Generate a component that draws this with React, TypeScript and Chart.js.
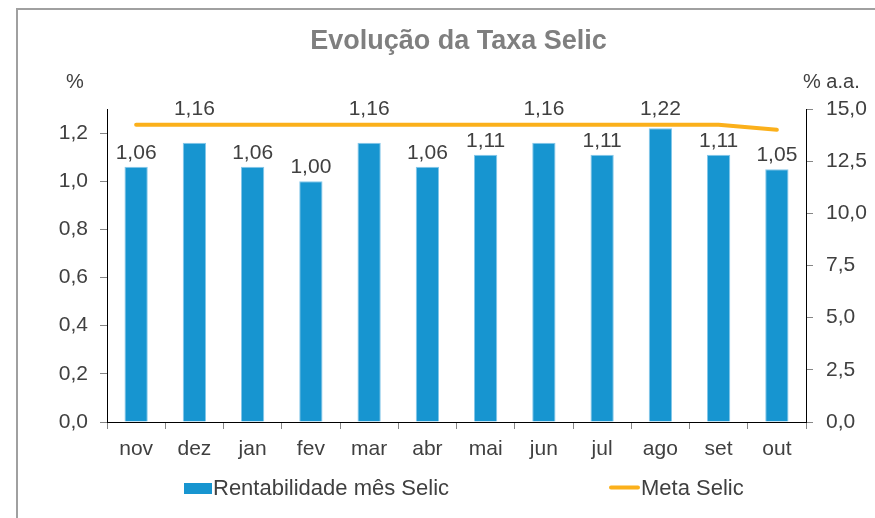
import React, { useEffect, useRef } from "react";
import { Chart, registerables } from "chart.js";

Chart.register(...registerables);

const months = ["nov", "dez", "jan", "fev", "mar", "abr", "mai", "jun", "jul", "ago", "set", "out"];
const rentabilidade = [1.06, 1.16, 1.06, 1.0, 1.16, 1.06, 1.11, 1.16, 1.11, 1.22, 1.11, 1.05];
const metaSelic = [14.25, 14.25, 14.25, 14.25, 14.25, 14.25, 14.25, 14.25, 14.25, 14.25, 14.25, 14.0];
const leftMax = 1.3;
const leftStep = 0.2;
const rightMax = 15;
const rightStep = 2.5;
const titleText = "Evolução da Taxa Selic";
const leftUnit = "%";
const rightUnit = "% a.a.";
const barLabel = "Rentabilidade mês Selic";
const lineLabel = "Meta Selic";

const FONT = '"Liberation Sans", Arial, sans-serif';
const TEXT = "#404040";
const BAR = "#1795d0";
const LINE = "#fbb01b";
const TICKC = "#868686";

const fmt = (v: number, d: number) => v.toFixed(d).replace(".", ",");

const overlay = {
  id: "overlay",
  afterDatasetsDraw(chart: any) {
    const ctx = chart.ctx;
    const bars = chart.getDatasetMeta(0).data;
    const pts = chart.getDatasetMeta(1).data;
    ctx.save();
    ctx.font = `21px ${FONT}`;
    ctx.fillStyle = TEXT;
    ctx.textAlign = "center";
    ctx.textBaseline = "middle";
    bars.forEach((b: any, i: number) => {
      let y = b.y - 14;
      const ly = pts[i].y;
      if (Math.abs(y - ly) < 13) y = ly - 15;
      ctx.fillText(fmt(rentabilidade[i], 2), b.x, y);
    });
    ctx.restore();
  },
  afterDraw(chart: any) {
    const ctx = chart.ctx;
    const area = chart.chartArea;
    ctx.save();
    // title
    ctx.font = `bold 27px ${FONT}`;
    ctx.fillStyle = "#7f7f7f";
    ctx.textAlign = "center";
    ctx.textBaseline = "middle";
    ctx.fillText(titleText, (area.left + area.right) / 2 + 2, 42);
    // unit labels
    ctx.font = `20px ${FONT}`;
    ctx.fillStyle = TEXT;
    ctx.fillText(leftUnit, 75, 82);
    ctx.textAlign = "left";
    ctx.fillText(rightUnit, 803, 82);
    // legend
    ctx.font = `22px ${FONT}`;
    ctx.fillStyle = BAR;
    ctx.fillRect(184, 483, 28, 11);
    ctx.fillStyle = TEXT;
    ctx.fillText(barLabel, 213, 489);
    ctx.strokeStyle = LINE;
    ctx.lineWidth = 4;
    ctx.lineCap = "round";
    ctx.beginPath();
    ctx.moveTo(611, 487.5);
    ctx.lineTo(638, 487.5);
    ctx.stroke();
    ctx.fillText(lineLabel, 641, 489);
    ctx.restore();
  },
};

export default function App() {
  const ref = useRef<HTMLCanvasElement | null>(null);
  useEffect(() => {
    if (!ref.current) return;
    const chart = new Chart(ref.current, {
      type: "bar",
      data: {
        labels: months,
        datasets: [
          {
            type: "bar",
            label: barLabel,
            data: rentabilidade,
            backgroundColor: BAR,
            borderColor: "#86c8ea",
            borderWidth: 1,
            barPercentage: 0.4,
            categoryPercentage: 1,
            yAxisID: "y",
            order: 2,
          },
          {
            type: "line",
            label: lineLabel,
            data: metaSelic,
            borderColor: LINE,
            borderWidth: 4,
            borderCapStyle: "round",
            pointRadius: 0,
            tension: 0,
            yAxisID: "y1",
            order: 1,
          } as any,
        ],
      },
      options: {
        responsive: false,
        animation: false,
        layout: { padding: { top: 109, left: 0, right: 0, bottom: 0 } },
        plugins: { legend: { display: false }, title: { display: false }, tooltip: { enabled: false } },
        scales: {
          x: {
            grid: { display: true, offset: true, drawOnChartArea: false, drawTicks: true, tickLength: 7, color: TICKC },
            border: { display: true, color: "#000", width: 1 },
            ticks: { font: { size: 21, family: FONT }, color: TEXT, padding: 8 },
            afterFit: (s: any) => {
              s.height = 96;
            },
          },
          y: {
            position: "left",
            min: 0,
            max: leftMax,
            grid: { display: true, drawOnChartArea: false, drawTicks: true, tickLength: 7, color: TICKC },
            border: { display: true, color: "#000", width: 1 },
            ticks: {
              stepSize: leftStep,
              font: { size: 21, family: FONT },
              color: TEXT,
              padding: 12,
              callback: (v: any) => fmt(Number(v), 1),
            },
            afterBuildTicks: (s: any) => {
              s.ticks = s.ticks.filter((t: any) => t.value <= 1.2 + 1e-9);
            },
            afterFit: (s: any) => {
              s.width = 107;
            },
          },
          y1: {
            position: "right",
            min: 0,
            max: rightMax,
            grid: { display: true, drawOnChartArea: false, drawTicks: true, tickLength: 7, color: TICKC },
            border: { display: true, color: "#000", width: 1 },
            ticks: {
              stepSize: rightStep,
              font: { size: 21, family: FONT },
              color: TEXT,
              padding: 13,
              callback: (v: any) => fmt(Number(v), 1),
            },
            afterFit: (s: any) => {
              s.width = 69;
            },
          },
        },
      },
      plugins: [overlay],
    });
    return () => chart.destroy();
  }, []);

  return (
    <div style={{ position: "fixed", left: 0, top: 0, width: 875, height: 518, overflow: "hidden", background: "#fff" }}>
      <div
        style={{
          position: "absolute",
          left: 16,
          top: 8,
          width: 1000,
          height: 1000,
          border: "2px solid #a0a0a0",
          boxSizing: "border-box",
        }}
      />
      <canvas ref={ref} width={875} height={518} style={{ position: "absolute", left: 0, top: 0 }} />
    </div>
  );
}
